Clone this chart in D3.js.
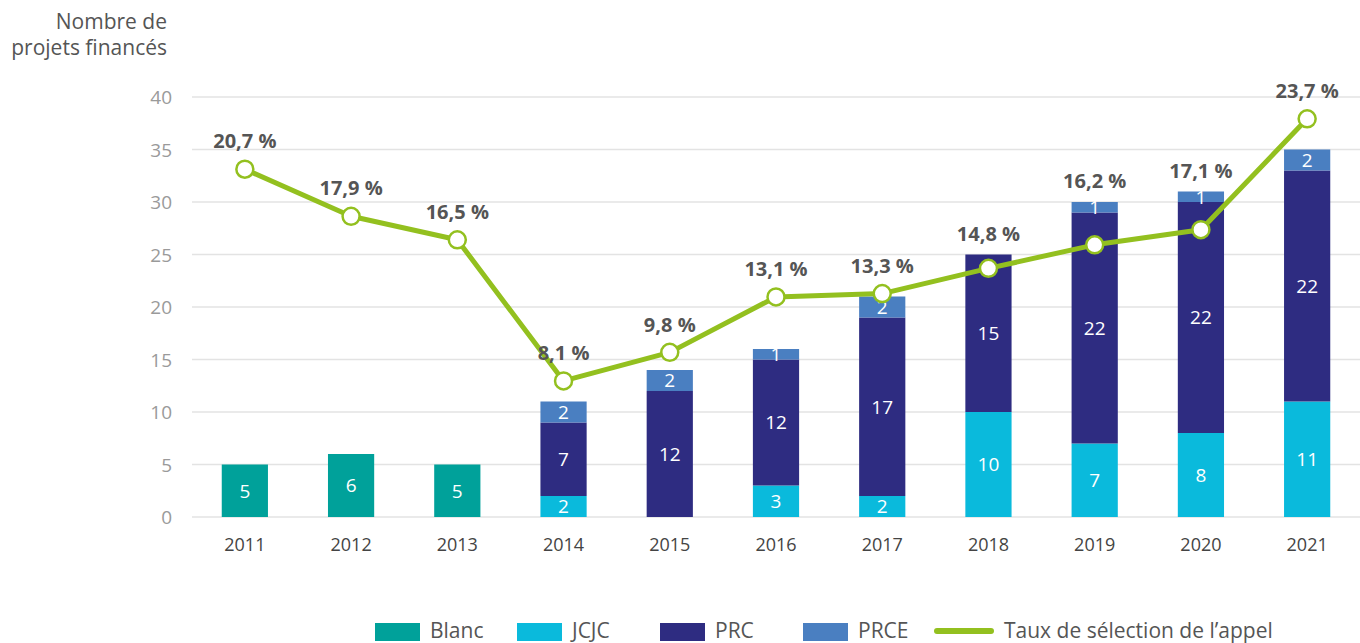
<!DOCTYPE html>
<html>
<head>
<meta charset="utf-8">
<script src="https://cdn.jsdelivr.net/npm/d3@7"></script>
<style>
  body { margin: 0; background: #fff; }
  svg { display: block; font-family: "Open Sans", Lato, sans-serif; }
</style>
</head>
<body>
<svg id="chart" width="1360" height="643"></svg>
<script>
const years = ["2011", "2012", "2013", "2014", "2015", "2016", "2017", "2018", "2019", "2020", "2021"];
const blanc = [5, 6, 5, 0, 0, 0, 0, 0, 0, 0, 0];
const jcjc = [0, 0, 0, 2, 0, 3, 2, 10, 7, 8, 11];
const prc = [0, 0, 0, 7, 12, 12, 17, 15, 22, 22, 22];
const prce = [0, 0, 0, 2, 2, 1, 2, 0, 1, 1, 2];
const rates = [20.7, 17.9, 16.5, 8.1, 9.8, 13.1, 13.3, 14.8, 16.2, 17.1, 23.7];
const yTicks = [0, 5, 10, 15, 20, 25, 30, 35, 40];
const seriesNames = ["Blanc", "JCJC", "PRC", "PRCE"];
const lineName = "Taux de sélection de l’appel";

const COLOR = {
    blanc: "#00a19a",
    jcjc: "#0abadc",
    prc: "#2e2c81",
    prce: "#4a7fc1",
    line: "#93c01f",
    grid: "#e3e3e3",
    tick: "#9a9a9a",
    text: "#555555",
};
const seriesColors = [COLOR.blanc, COLOR.jcjc, COLOR.prc, COLOR.prce];
const FONT = "'Open Sans', Lato, sans-serif";

const svg = d3.select("#chart");
const plotLeft = 192, plotRight = 1360, plotTop = 97, plotBottom = 517;

const x = d3.scaleBand().domain(years).range([plotLeft, plotRight]).paddingInner(0.565).paddingOuter(0.28);
const y = d3.scaleLinear().domain([0, 40]).range([plotBottom, plotTop]);
// taux de sélection : 0-25 % sur la même hauteur que 0-40 projets
const yRate = d3.scaleLinear().domain([0, 25]).range([plotBottom, plotTop]);

// grille
svg.append("g")
    .attr("id", "grid")
    .selectAll("line")
    .data(yTicks)
    .enter()
    .append("line")
    .attr("x1", plotLeft)
    .attr("x2", plotRight)
    .attr("y1", (d) => y(d))
    .attr("y2", (d) => y(d))
    .attr("stroke", COLOR.grid)
    .attr("stroke-width", 1.5);

// axe y
const yAxis = svg.append("g")
    .attr("transform", `translate(${plotLeft - 20},0)`)
    .call(d3.axisLeft(y).tickValues(yTicks).tickSize(0).tickPadding(0));
yAxis.select(".domain").remove();
yAxis.selectAll("text")
    .attr("fill", COLOR.tick)
    .attr("dy", "0.35em")
    .style("font-size", "19px")
    .style("font-family", FONT);

svg.append("text")
    .attr("text-anchor", "end")
    .attr("fill", COLOR.text)
    .style("font-size", "21px")
    .selectAll("tspan")
    .data(["Nombre de", "projets financés"])
    .enter()
    .append("tspan")
    .attr("x", 167)
    .attr("y", (d, i) => 29 + i * 26)
    .text((d) => d);

// axe x
const xAxis = svg.append("g")
    .attr("transform", `translate(0,${plotBottom + 21})`)
    .call(d3.axisBottom(x).tickSize(0).tickPadding(0));
xAxis.select(".domain").remove();
xAxis.selectAll("text")
    .attr("fill", "#444")
    .attr("dy", "0.71em")
    .style("font-size", "18px")
    .style("font-family", FONT);

// barres empilées
const table = years.map((yr, i) => ({
    year: yr, Blanc: blanc[i], JCJC: jcjc[i], PRC: prc[i], PRCE: prce[i],
}));
const stacked = d3.stack().keys(seriesNames)(table);

const layers = svg.append("g")
    .attr("id", "bars")
    .selectAll("g")
    .data(stacked)
    .enter()
    .append("g")
    .attr("fill", (d, i) => seriesColors[i]);

layers.selectAll("rect")
    .data((d) => d.filter((s) => s[1] - s[0] > 0))
    .enter()
    .append("rect")
    .attr("x", (d) => x(d.data.year))
    .attr("width", x.bandwidth())
    .attr("y", (d) => y(d[1]))
    .attr("height", (d) => y(d[0]) - y(d[1]));

layers.selectAll("text")
    .data((d) => d.filter((s) => s[1] - s[0] > 0))
    .enter()
    .append("text")
    .attr("x", (d) => x(d.data.year) + x.bandwidth() / 2)
    .attr("y", (d) => (y(d[0]) + y(d[1])) / 2)
    .attr("dy", "0.36em")
    .attr("text-anchor", "middle")
    .attr("fill", "#fff")
    .style("font-size", "19px")
    .text((d) => d[1] - d[0]);

// ligne du taux de sélection
const cx = (i) => x(years[i]) + x.bandwidth() / 2;
const line = d3.line().x((d, i) => cx(i)).y((d) => yRate(d));

svg.append("path")
    .datum(rates)
    .attr("d", line)
    .attr("fill", "none")
    .attr("stroke", COLOR.line)
    .attr("stroke-width", 5)
    .attr("stroke-linejoin", "round");

svg.append("g")
    .selectAll("circle")
    .data(rates)
    .enter()
    .append("circle")
    .attr("cx", (d, i) => cx(i))
    .attr("cy", (d) => yRate(d))
    .attr("r", 8.5)
    .attr("fill", "#fff")
    .attr("stroke", COLOR.line)
    .attr("stroke-width", 2.5);

// étiquette au-dessus du point ou de la barre, selon le plus haut
const totals = table.map((d) => d.Blanc + d.JCJC + d.PRC + d.PRCE);
svg.append("g")
    .selectAll("text")
    .data(rates)
    .enter()
    .append("text")
    .attr("x", (d, i) => cx(i))
    .attr("y", (d, i) => Math.min(yRate(d) - 28, y(totals[i]) - 21))
    .attr("dy", "0.36em")
    .attr("text-anchor", "middle")
    .attr("fill", COLOR.text)
    .style("font-size", "20px")
    .style("font-weight", "bold")
    .text((d) => d3.format(".1f")(d).replace(".", ",") + " %");

// légende
const legend = svg.append("g").attr("id", "legend");
const legendX = [375, 517, 660, 803];
seriesNames.forEach((name, i) => {
    legend.append("rect")
        .attr("x", legendX[i])
        .attr("y", 623)
        .attr("width", 45)
        .attr("height", 18)
        .attr("fill", seriesColors[i]);
    legend.append("text")
        .attr("x", legendX[i] + 55)
        .attr("y", 638)
        .attr("fill", COLOR.text)
        .style("font-size", "21px")
        .text(name);
});
legend.append("line")
    .attr("x1", 937)
    .attr("x2", 991)
    .attr("y1", 631)
    .attr("y2", 631)
    .attr("stroke", COLOR.line)
    .attr("stroke-width", 6)
    .attr("stroke-linecap", "round");
legend.append("text")
    .attr("x", 1004)
    .attr("y", 638)
    .attr("fill", COLOR.text)
    .style("font-size", "21px")
    .text(lineName);
</script>
</body>
</html>
